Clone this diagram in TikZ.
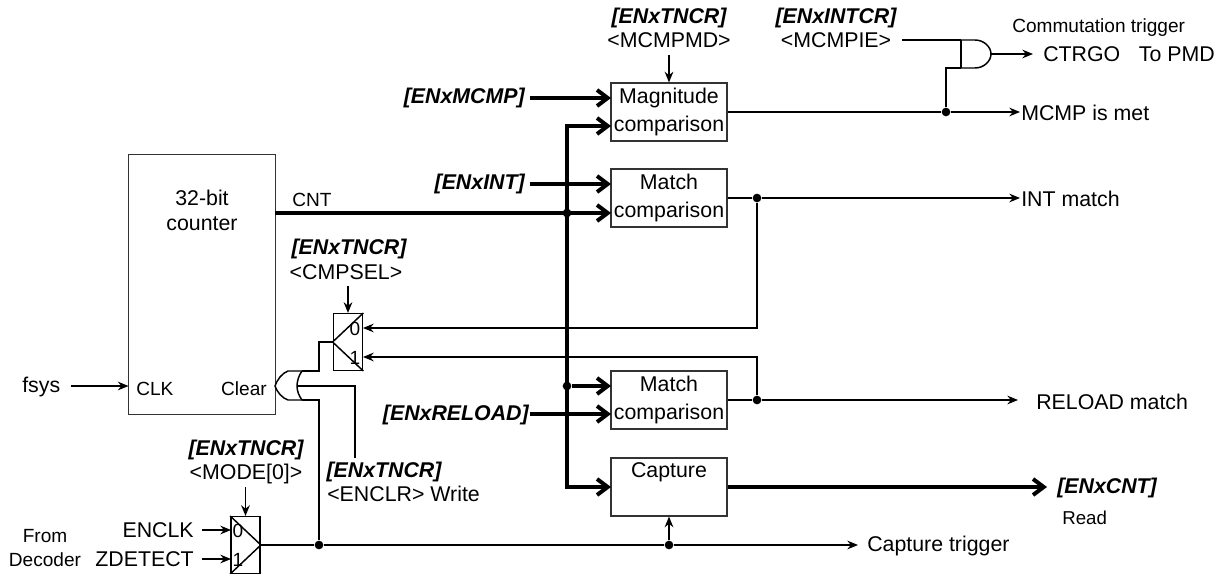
\documentclass[tikz,border=0pt]{standalone}
\usepackage{fontspec}
\setmainfont{Liberation Sans}
\usetikzlibrary{arrows.meta}
\tikzset{
  x=0.75pt,y=-0.75pt,
  wire/.style={line width=1.1pt,black},
  sig/.style={wire,-{Stealth[length=8pt,width=6.5pt]}},
  bus/.style={line width=3pt,black,line join=miter},
  busarrow/.style={bus,-{Straight Barb[length=8pt,width=12pt,line width=3pt]}},
  box/.style={draw=black!80,line width=0.9pt,fill=white,inner sep=0pt,align=center,font=\fontsize{16}{21}\selectfont,minimum width=87pt,minimum height=43.5pt},
  muxbox/.style={draw=black,line width=1.1pt,inner sep=0pt,minimum width=22pt,minimum height=42.5pt},
  txt/.style={inner sep=0pt,yshift=-0.4pt,font=\fontsize{16}{19}\selectfont},
  small/.style={inner sep=0pt,yshift=-0.4pt,font=\fontsize{14.3}{17}\selectfont},
  reg/.style={inner sep=0pt,yshift=-0.4pt,font=\fontsize{16}{19}\selectfont\bfseries\itshape},
  dot/.style={circle,fill=black,inner sep=0pt,minimum size=6.5pt},
}
\begin{document}
\begin{tikzpicture}
\useasboundingbox (0,0) rectangle (1225,574);
% blocks
\node[box,minimum width=110pt,minimum height=194.5pt] (ctr) at (202,284.5) {};
\node[txt] (ctrA) at (202,197) {32-bit};
\node[txt] (ctrB) at (202,223) {counter};
\node[box] (mag) at (669,112) {Magnitude\\comparison};
\node[box] (m1) at (669,198) {Match\\comparison};
\node[box] (m2) at (669,400) {Match\\comparison};
\node[box] (cap) at (669,487) {};
\node[txt] (capT) at (669,472) {Capture};
\node[muxbox] (mxA) at (348,342) {};
\node[muxbox] (mxB) at (245.5,545) {};
% mux diagonals
\draw[wire] (mxA.north east) -- (mxA.west) -- (mxA.south east);
\draw[wire] (mxB.north west) -- (mxB.east) -- (mxB.south west);
\node[small] (a0) at (355,328) {0};
\node[small] (a1) at (355,357) {1};
\node[small] (b0) at (238,530) {0};
\node[small] (b1) at (238,559) {1};
% labels
\node[reg] (rTop) at (669,17) {[ENxTNCR]};
\node[txt] (rTopB) at (669,40) {<MCMPMD>};
\node[reg] (rInt) at (836,17) {[ENxINTCR]};
\node[txt] (rIntB) at (836,40) {<MCMPIE>};
\node[small,anchor=west] (ct) at (1012,27) {Commutation trigger};
\node[txt,anchor=west] (ctrgo) at (1043,54) {CTRGO};
\node[txt,anchor=east] (pmd) at (1215,54) {To PMD};
\node[txt,anchor=west] (mcmp) at (1021,112.5) {MCMP is met};
\node[txt,anchor=west] (intm) at (1021,198.5) {INT match};
\node[txt,anchor=west] (relm) at (1036,401) {RELOAD match};
\node[txt,anchor=west] (capm) at (867,545) {Capture trigger};
\node[reg,anchor=west] (rCnt) at (1057,487) {[ENxCNT]};
\node[small,anchor=west,font=\fontsize{14}{17}\selectfont] (read) at (1062,517) {Read};
\node[reg,anchor=east] (rMcmp) at (525,97) {[ENxMCMP]};
\node[reg,anchor=east] (rInt2) at (525,183) {[ENxINT]};
\node[reg,anchor=east] (rRel) at (529,414) {[ENxRELOAD]};
\node[small,anchor=west] (cnt) at (292,199) {CNT};
\node[reg] (rSel) at (349,248) {[ENxTNCR]};
\node[txt] (rSelB) at (346,272) {<CMPSEL>};
\node[reg] (rClr) at (384,471) {[ENxTNCR]};
\node[txt,anchor=west] (rClrB) at (327,493) {<ENCLR> Write};
\node[reg] (rMod) at (246,449) {[ENxTNCR]};
\node[txt] (rModB) at (246,473) {<MODE[0]>};
\node[small,anchor=west] (clk) at (136,388) {CLK};
\node[small,anchor=east] (clr) at (267,388) {Clear};
\node[txt,anchor=west] (fsys) at (22,386) {fsys};
\node[small] (from) at (45,535) {From};
\node[small] (dec) at (45,559) {Decoder};
\node[txt,anchor=east] (enclk) at (194,530) {ENCLK};
\node[txt,anchor=east] (zdet) at (194,559) {ZDETECT};
% junctions
\node[dot] (jBus1) at (567,213) {};
\node[dot] (jBus2) at (567,386) {};
\node[dot] (jM1) at (757,198) {};
\node[dot] (jM2) at (757,400) {};
\node[dot] (jMag) at (946,112) {};
\node[dot] (jB1) at (319,545) {};
\node[dot] (jB2) at (669,545) {};
% free ends
\coordinate (busTop) at (567,126);
\coordinate (busBot) at (567,487);
\coordinate (magI1) at (611,98);
\coordinate (magI2) at (611,126);
\coordinate (m1I1) at (611,184);
\coordinate (m1I2) at (611,213);
\coordinate (m2I1) at (611,386);
\coordinate (m2I2) at (611,414);
\coordinate (capI) at (611,487);
\coordinate (ctrO) at (275,213);
\coordinate (mA0) at (363,328);
\coordinate (mA1) at (363,357);
\coordinate (mB0) at (231,530);
\coordinate (mB1) at (231,559);
\coordinate (andTop) at (961,40);
\coordinate (andBot) at (961,68);
\coordinate (andOut) at (991,54);
\coordinate (orT) at (302,371);
\coordinate (orB) at (302,400);
\coordinate (orIn) at (297,386);
\coordinate (clrWire) at (355,458);
\coordinate (selTail) at (348,286);
\coordinate (modTail) at (245.5,487);
\coordinate (topTail) at (669,55);
\coordinate (inTail) at (902,40);
\coordinate (cntOut) at (1047,487);
\coordinate (relOut) at (1018,400);
\coordinate (mcmpOut) at (1020,112);
\coordinate (intOut) at (1020,198);
\coordinate (andArrow) at (1033,54);
\coordinate (capOut) at (858,545);
\coordinate (fsysTail) at (71,386);
\coordinate (clkIn) at (128.5,386);
\coordinate (enTail) at (202,530);
\coordinate (zdTail) at (202,559);
% thick
\draw[busarrow] (530,98) -- (magI1);
\draw[busarrow] (530,184) -- (m1I1);
\draw[busarrow] (530,414) -- (m2I2);
\draw[busarrow] (ctrO) -- (m1I2);
\draw[busarrow] (busTop) -- (magI2);
\draw[busarrow] (jBus2) -- (m2I1);
\draw[busarrow] (busBot) -- (capI);
\draw[bus,line cap=rect] (busTop) -- (busBot);
\draw[busarrow] (cap.east) -- (cntOut);
% thin
\draw[sig] (topTail) -- (mag.north);
\draw[sig] (selTail) -- (mxA.north);
\draw[sig] (modTail) -- (mxB.north);
\draw[wire] (mag.east) -- (jMag);
\draw[sig] (jMag) -- (mcmpOut);
\draw[wire] (jMag) -- (946,68) -- (andBot);
\draw[wire] (inTail) -- (andTop);
\draw[wire] (andTop) -- (andBot);
\draw[wire] (andTop) -- (975,40) .. controls (984,40) and (991,47) .. (andOut) .. controls (991,61) and (984,68) .. (975,68) -- (andBot);
\draw[sig] (andOut) -- (andArrow);
\draw[wire] (m1.east) -- (jM1);
\draw[sig] (jM1) -- (intOut);
\draw[sig] (jM1) -- (757,328) -- (mA0);
\draw[wire] (m2.east) -- (jM2);
\draw[sig] (jM2) -- (relOut);
\draw[sig] (jM2) -- (757,357) -- (mA1);
\draw[wire] (mxA.west) -- (319,342) -- (319,371) -- (orT);
% OR gate
\draw[wire] (orT) -- (288,371) .. controls (282,373) and (277,380) .. (275,386) .. controls (277,392) and (282,398) .. (288,400) -- (orB);
\draw[wire] (orT) .. controls (299,375) and (297,381) .. (orIn) .. controls (297,391) and (299,396) .. (orB);
\draw[wire] (orIn) -- (355,386) -- (clrWire);
\draw[wire] (orB) -- (319,400) -- (jB1);
\draw[sig] (fsysTail) -- (clkIn);
\draw[sig] (enTail) -- (mB0);
\draw[sig] (zdTail) -- (mB1);
\draw[wire] (mxB.east) -- (jB1);
\draw[wire] (jB1) -- (jB2);
\draw[sig] (jB2) -- (capOut);
\draw[sig] (jB2) -- (cap.south);
\end{tikzpicture}
\end{document}
